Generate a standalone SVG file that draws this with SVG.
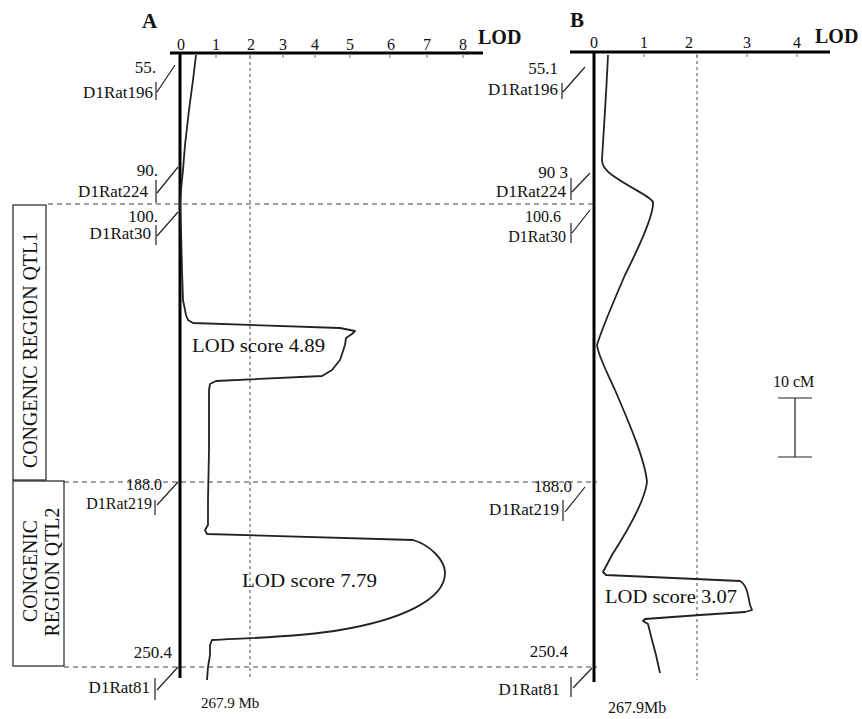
<svg xmlns="http://www.w3.org/2000/svg" width="862" height="719" viewBox="0 0 862 719">
<style>
text{font-family:"Liberation Serif","Times New Roman",serif;fill:#111}
.ax{stroke:#000;stroke-width:3;fill:none}
.tick{stroke:#888;stroke-width:1.2}
.grid{stroke:#888;stroke-width:1.5;stroke-dasharray:3,3;fill:none}
.hd{stroke:#444;stroke-width:1;stroke-dasharray:5,4;fill:none}
.curve{stroke:#222;stroke-width:1.8;fill:none;stroke-linejoin:round}
.brk{stroke:#222;stroke-width:1.2;fill:none}
.tl{font-size:16px;text-anchor:middle}
.mk{font-size:17px;text-anchor:end}
.sm{font-size:16px}
.lod{font-size:19px}
.bold{font-weight:bold}
.box{fill:#fff;stroke:#222;stroke-width:1.2}
</style>
<rect width="862" height="719" fill="#fff"/>

<g id="region-lines">
<line class="hd" x1="48" y1="204" x2="597" y2="204"/>
<line class="hd" x1="64" y1="482" x2="597" y2="482"/>
<line class="hd" x1="64" y1="667" x2="597" y2="667"/>
</g>

<g id="region-qtl1">
<rect class="box" x="13" y="205" width="33" height="275"/>
<text transform="translate(37,350) rotate(-90)" text-anchor="middle" font-size="20" textLength="236" lengthAdjust="spacingAndGlyphs">CONGENIC REGION QTL1</text>
</g>
<g id="region-qtl2">
<rect class="box" x="13" y="481" width="51" height="185"/>
<text transform="translate(37,571) rotate(-90)" text-anchor="middle" font-size="20" textLength="102" lengthAdjust="spacingAndGlyphs">CONGENIC</text>
<text transform="translate(59,572) rotate(-90)" text-anchor="middle" font-size="20" textLength="129" lengthAdjust="spacingAndGlyphs">REGION QTL2</text>
</g>

<g id="panel-A">
<text x="142" y="28" font-size="21" class="bold">A</text>
<line class="grid" x1="250" y1="56" x2="250" y2="680"/>
<line class="ax" x1="170" y1="53" x2="483" y2="53"/>
<line class="ax" x1="180" y1="53" x2="180" y2="678"/>
<g class="tick">
<line x1="216" y1="54" x2="216" y2="58"/><line x1="250" y1="54" x2="250" y2="58"/><line x1="283" y1="54" x2="283" y2="58"/><line x1="315" y1="54" x2="315" y2="58"/><line x1="350" y1="54" x2="350" y2="58"/><line x1="390" y1="54" x2="390" y2="58"/><line x1="427" y1="54" x2="427" y2="58"/><line x1="463" y1="54" x2="463" y2="58"/>
</g>
<g class="tl">
<text x="181" y="50">0</text><text x="216" y="50">1</text><text x="251" y="50">2</text><text x="283" y="50">3</text><text x="315" y="50">4</text><text x="350" y="50">5</text><text x="391" y="50">6</text><text x="427" y="50">7</text><text x="463" y="50">8</text>
</g>
<text x="478" y="44" font-size="20" class="bold">LOD</text>

<path class="curve" d="M196,55 L193,80 L189,110 L185,145 L183,170 L181,190 L180,205 L181,230 L182,270 L183,300 L186,315 L188,320 L193,323 L340,328 L355,331 L352,334 L346,338 L345,345 L340,360 L332,370 L322,376 L216,381 L210,384 L209,390 L209,450 L208,500 L208,525 L205,530 L207,534 L413,540 C430,545 445,560 445,573 C445,600 400,620 340,630 C300,637 250,638 212,640 L210,645 L210,655 L208,667 L207,680"/>

<g id="markers-A">
<text class="mk" x="156" y="73">55.</text>
<text class="mk" x="153" y="98">D1Rat196</text>
<path class="brk" d="M156,82 V100 M157,92 L175,65"/>
<text class="mk" x="158" y="176">90.</text>
<text class="mk" x="148" y="197">D1Rat224</text>
<path class="brk" d="M156,180 V203 M157,193 L178,167"/>
<text class="mk" x="158" y="222">100.</text>
<text class="mk" x="151" y="239">D1Rat30</text>
<path class="brk" d="M156,225 V245 M157,236 L178,212"/>
<text class="mk sm" x="162" y="490">188.0</text>
<text class="mk sm" x="152" y="509">D1Rat219</text>
<path class="brk" d="M155,500 V515 M157,505 L178,482"/>
<text class="mk" x="172" y="658">250.4</text>
<text class="mk" x="150" y="693">D1Rat81</text>
<path class="brk" d="M155,678 V700 M157,690 L178,667"/>
<text x="201" y="708" font-size="15">267.9 Mb</text>
</g>
<text class="lod" x="192" y="352" textLength="133" lengthAdjust="spacingAndGlyphs">LOD score 4.89</text>
<text class="lod" x="242" y="587" textLength="135" lengthAdjust="spacingAndGlyphs">LOD score 7.79</text>
</g>

<g id="panel-B">
<text x="570" y="27" font-size="21" class="bold">B</text>
<line class="grid" x1="697" y1="55" x2="697" y2="680"/>
<line class="ax" x1="570" y1="52" x2="830" y2="52"/>
<line class="ax" x1="594" y1="52" x2="594" y2="682"/>
<g class="tick">
<line x1="644" y1="53" x2="644" y2="57"/><line x1="697" y1="53" x2="697" y2="57"/><line x1="747" y1="53" x2="747" y2="57"/><line x1="797" y1="53" x2="797" y2="57"/>
</g>
<g class="tl">
<text x="594" y="48">0</text><text x="644" y="48">1</text><text x="689" y="48">2</text><text x="747" y="48">3</text><text x="797" y="48">4</text>
</g>
<text x="815" y="43" font-size="20" class="bold">LOD</text>

<path class="curve" d="M608,55 C606,100 603,140 602,160 C602,166 605,170 612,175 C630,188 650,196 653,202 C654,215 640,245 625,275 C612,305 600,335 597,345 C598,355 605,368 615,390 C630,425 645,460 647,482 C645,500 628,530 612,555 L603,572 L606,575 L740,581 C747,585 748,595 750,605 L752,610 L745,612 L700,615 L645,619 L643,621 L648,624 L652,640 L656,655 L660,673"/>

<g id="markers-B">
<text class="mk" x="558" y="74">55.1</text>
<text class="mk" x="558" y="95">D1Rat196</text>
<path class="brk" d="M562,83 V99 M563,92 L585,67"/>
<text class="mk" x="568" y="178">90 3</text>
<text class="mk" x="566" y="197">D1Rat224</text>
<path class="brk" d="M571,178 V200 M572,192 L590,173"/>
<text class="mk sm" x="561" y="222">100.6</text>
<text class="mk sm" x="566" y="242">D1Rat30</text>
<path class="brk" d="M571,223 V243 M572,233 L590,210"/>
<text class="mk" x="572" y="492">188.0</text>
<text class="mk" x="559" y="515">D1Rat219</text>
<path class="brk" d="M563,500 V521 M565,512 L585,487"/>
<text class="mk" x="568" y="657">250.4</text>
<text class="mk" x="560" y="695">D1Rat81</text>
<path class="brk" d="M571,677 V697 M573,688 L592,668"/>
<text x="608" y="713" font-size="16">267.9Mb</text>
</g>
<text class="lod" x="605" y="603" textLength="132" lengthAdjust="spacingAndGlyphs">LOD score 3.07</text>
</g>

<g id="scale-bar">
<text x="773" y="387" font-size="16">10 cM</text>
<path d="M778,398 H812 M795,398 V457 M778,457 H812" stroke="#222" stroke-width="1.2" fill="none"/>
</g>
</svg>
